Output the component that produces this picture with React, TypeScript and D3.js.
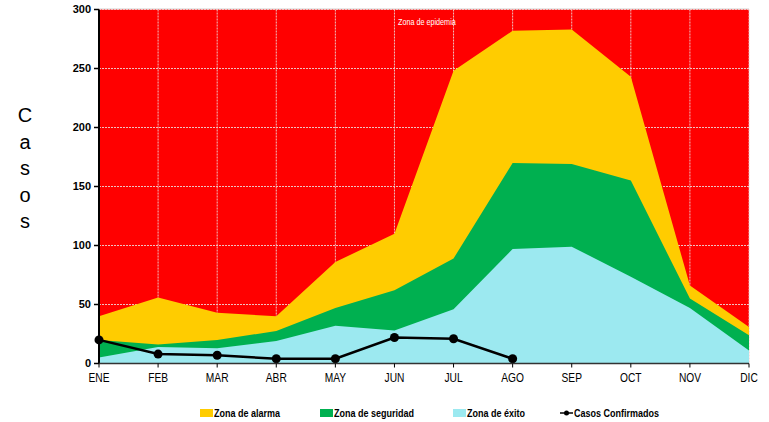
import React from "react";
import * as d3 from "d3";

const months = ["ENE", "FEB", "MAR", "ABR", "MAY", "JUN", "JUL", "AGO", "SEP", "OCT", "NOV", "DIC"];
const epidemia = [300, 300, 300, 300, 300, 300, 300, 300, 300, 300, 300, 300];
const alarma = [40, 56, 43, 40, 86, 110, 248, 282, 283, 243, 66, 31];
const seguridad = [20, 16, 20, 27.5, 47, 62, 89, 170, 169, 155, 55, 24];
const exito = [5, 14, 13, 19, 32, 28, 46, 97, 99, 73.5, 47, 11];
const confirmados = [20, 8, 7, 4, 4, 22, 21, 4];
const yTicks = [0, 50, 100, 150, 200, 250, 300];

const W = 769;
const H = 422;
const left = 99;
const right = 749;
const top = 9.5;
const bottom = 363.5;

export default function App() {
  const x = d3.scalePoint<string>().domain(months).range([left, right]);
  const y = d3.scaleLinear().domain([0, 300]).range([bottom, top]);
  const area = d3
    .area<number>()
    .x((_, i) => x(months[i]) as number)
    .y0(y(0))
    .y1((d) => y(d));
  const line = d3
    .line<number>()
    .x((_, i) => x(months[i]) as number)
    .y((d) => y(d));

  const font = "Liberation Sans, Arial, sans-serif";
  const colors = { red: "#FF0000", yellow: "#FFCC00", green: "#00B050", cyan: "#9CE9F0" };
  const casos = ["C", "a", "s", "o", "s"];
  const legend = [
    { label: "Zona de alarma", color: colors.yellow, x: 200 },
    { label: "Zona de seguridad", color: colors.green, x: 320 },
    { label: "Zona de éxito", color: colors.cyan, x: 453 },
  ];

  return (
    <svg width={W} height={H} style={{ position: "absolute", left: 0, top: 0, display: "block", background: "#fff" }}>
      <line x1={left} x2={right} y1={top - 0.5} y2={top - 0.5} stroke="#d0d0d0" strokeWidth={1} />
      <path d={area(epidemia) || ""} fill={colors.red} />
      {yTicks.slice(1).map((t) => (
        <line key={"gy" + t} x1={left} x2={right} y1={y(t)} y2={y(t)} stroke="#f0c0c0" strokeWidth={1} strokeDasharray="2,1" />
      ))}
      {months.slice(1).map((m) => (
        <line key={"gx" + m} x1={x(m)} x2={x(m)} y1={top} y2={bottom} stroke="#f0c0c0" strokeWidth={1} strokeDasharray="2,1" />
      ))}
      <path d={area(alarma) || ""} fill={colors.yellow} />
      <path d={area(seguridad) || ""} fill={colors.green} />
      <path d={area(exito) || ""} fill={colors.cyan} />
      <text transform="translate(398,25) scale(0.85,1)" fill="#fff" fontSize={8.5} fontFamily={font}>Zona de epidemia</text>
      <path d={line(confirmados) || ""} fill="none" stroke="#000" strokeWidth={2.5} />
      {confirmados.map((d, i) => (
        <circle key={"c" + i} cx={x(months[i])} cy={y(d)} r={4.5} fill="#000" />
      ))}
      {/* axes */}
      <line x1={left} x2={left} y1={top} y2={bottom} stroke="#000" strokeWidth={2} />
      <line x1={left} x2={right} y1={bottom} y2={bottom} stroke="#333" strokeWidth={1.5} />
      {yTicks.map((t) => (
        <g key={"yt" + t}>
          <line x1={left - 5} x2={left} y1={y(t)} y2={y(t)} stroke="#000" strokeWidth={1.5} />
          <text x={left - 8} y={y(t)} dy="0.35em" textAnchor="end" fontSize={11} fontWeight="bold" fontFamily={font}>{t}</text>
        </g>
      ))}
      {months.map((m) => (
        <g key={"xt" + m}>
          <line x1={x(m)} x2={x(m)} y1={bottom} y2={bottom + 4} stroke="#000" strokeWidth={1} />
          <text transform={`translate(${x(m)},${bottom + 18}) scale(0.85,1)`} textAnchor="middle" fontSize={12} fontFamily={font}>{m}</text>
        </g>
      ))}
      {casos.map((c, i) => (
        <text key={"ca" + i} x={25} y={122 + i * 26.5} textAnchor="middle" fontSize={20} fontFamily={font}>{c}</text>
      ))}
      {legend.map((l) => (
        <g key={l.label}>
          <rect x={l.x} y={409} width={13} height={8} fill={l.color} />
          <text transform={`translate(${l.x + 14},417) scale(0.82,1)`} fontSize={11} fontWeight="bold" fontFamily={font}>{l.label}</text>
        </g>
      ))}
      <line x1={560} x2={573} y1={413} y2={413} stroke="#000" strokeWidth={1.5} />
      <circle cx={566.5} cy={413} r={2.5} fill="#000" />
      <text transform="translate(574,417) scale(0.82,1)" fontSize={11} fontWeight="bold" fontFamily={font}>Casos Confirmados</text>
    </svg>
  );
}
